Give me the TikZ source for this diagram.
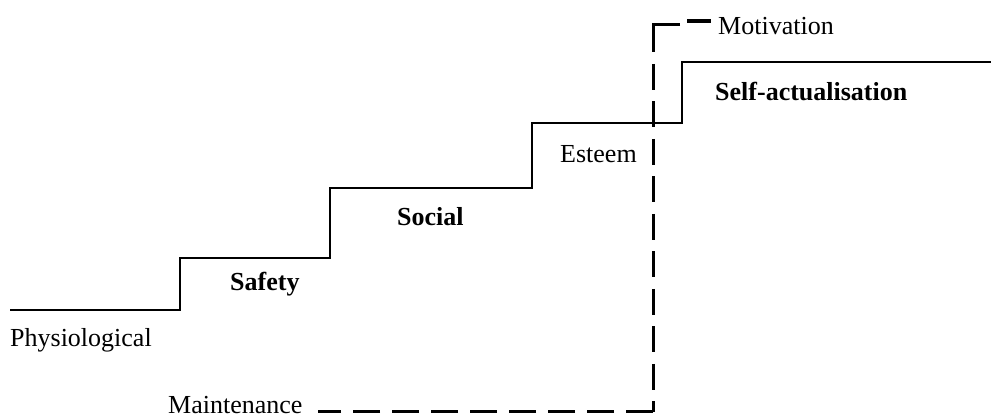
\documentclass[tikz,border=0pt]{standalone}
\usepackage{fontspec}
\setmainfont{Liberation Serif}
\usetikzlibrary{calc}
\begin{document}
\begin{tikzpicture}[x=1pt,y=-1pt,
  lbl/.style={anchor=base west, inner sep=0pt, font=\fontsize{26}{30}\selectfont},
  blbl/.style={anchor=base west, inner sep=0pt, font=\fontsize{26}{30}\selectfont\bfseries},
  stair/.style={line width=1.6pt, line join=miter},
  ground/.style={line width=2.6pt},
  dline/.style={line width=3pt, dash pattern=on 27pt off 12pt},
  cornerline/.style={line width=3pt, dash pattern=on 54pt off 12pt
    on 26pt off 11.5pt on 26pt off 11.5pt on 26pt off 11.5pt
    on 26pt off 11.5pt on 26pt off 11.5pt on 26pt off 11.5pt
    on 26pt off 11.5pt on 26pt off 11.5pt on 26pt off 11.5pt
    on 40pt off 12pt},
  mdash/.style={line width=4pt}]
\useasboundingbox[fill=white] (0,0) rectangle (991,419);
% staircase
\draw[stair] (10,310) -- (180,310) -- (180,258) -- (330,258) -- (330,188)
  -- (532,188) -- (532,123) -- (682,123) -- (682,62) -- (991,62);
\draw[ground] (10,310) -- (180,310);
% labels
\node[lbl] (phys) at (10,347) {Physiological};
\node[blbl] (safe) at (230,291) {Safety};
\node[blbl] (soc) at (397,226) {Social};
\node[lbl] (est) at (560,163) {Esteem};
\node[blbl] (self) at (715,101) {Self-actualisation};
\node[lbl] (mot) at (718,35) {Motivation};
\node[lbl] (mnt) at (168,414) {Maintenance};
% dashed boundary
\coordinate (c1) at (653,412);
\coordinate (c2) at (653,25);
\coordinate (c3) at (680,25);
\draw[dline] (c1) -- ($(c1 -| mnt.east)+(15,0)$);
\draw[cornerline] (c3) -- (c2) -- (c1);
\coordinate (m1) at (687,21);
\coordinate (m2) at (711,21);
\draw[mdash] (m1) -- (m2);
\end{tikzpicture}
\end{document}
